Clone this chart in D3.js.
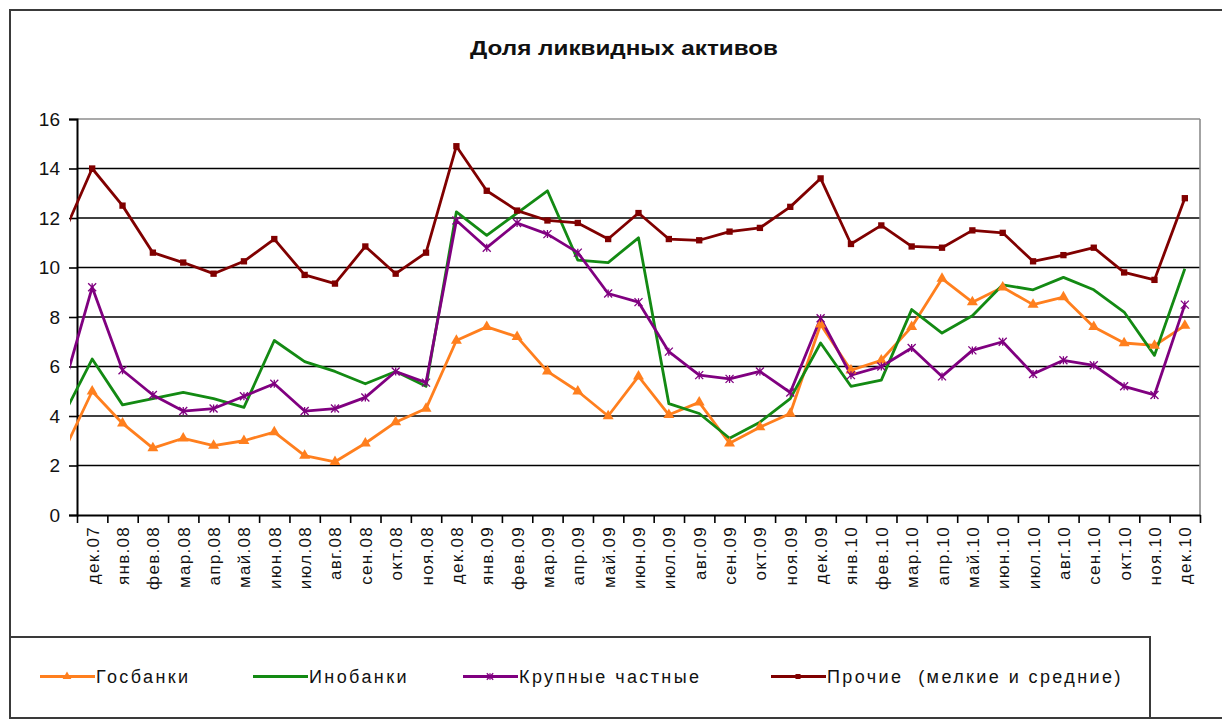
<!DOCTYPE html>
<html lang="ru">
<head>
    <meta charset="UTF-8">
    <title>Доля ликвидных активов</title>
    <script src="https://d3js.org/d3.v7.min.js"></script>
    <style>
        body {
            margin: 0;
            background-color: white;
            font-family: "Liberation Sans", Arial, sans-serif;
        }
        svg {
            display: block;
        }
        .legend-label {
            white-space: pre;
        }
    </style>
</head>
<body>
<svg></svg>
<script>
    // месяцы на оси
    const categories = ["дек.07", "янв.08", "фев.08", "мар.08", "апр.08", "май.08", "июн.08", "июл.08",
        "авг.08", "сен.08", "окт.08", "ноя.08", "дек.08", "янв.09", "фев.09", "мар.09", "апр.09", "май.09",
        "июн.09", "июл.09", "авг.09", "сен.09", "окт.09", "ноя.09", "дек.09", "янв.10", "фев.10", "мар.10",
        "апр.10", "май.10", "июн.10", "июл.10", "авг.10", "сен.10", "окт.10", "ноя.10", "дек.10"];

    const seriesNames = ["Госбанки", "Инобанки", "Крупные частные", "Прочие  (мелкие и средние)"];

    // значение предыдущего месяца (ноя.07), видно только обрезанный кусок линии у левого края
    const leadIn = [2.4, 3.9, 4.9, 11.2];

    const gosbanki = [5.0, 3.7, 2.7, 3.1, 2.8, 3.0, 3.35, 2.4, 2.15, 2.9, 3.75, 4.3, 7.05, 7.6, 7.2, 5.8, 5.0, 4.0,
        5.6, 4.05, 4.55, 2.9, 3.55, 4.1, 7.7, 5.85, 6.25, 7.6, 9.55, 8.6, 9.2, 8.5, 8.8, 7.6, 6.95, 6.85, 7.65];
    const inobanki = [6.3, 4.45, 4.7, 4.95, 4.7, 4.35, 7.05, 6.2, 5.8, 5.3, 5.8, 5.2, 12.25, 11.3, 12.2, 13.1, 10.3, 10.2,
        11.2, 4.5, 4.1, 3.1, 3.75, 4.7, 6.95, 5.2, 5.45, 8.3, 7.35, 8.05, 9.3, 9.1, 9.6, 9.1, 8.2, 6.45, 9.95];
    const krupnye = [9.2, 5.85, 4.85, 4.2, 4.3, 4.8, 5.3, 4.2, 4.3, 4.75, 5.8, 5.35, 11.9, 10.8, 11.8, 11.35, 10.6, 8.95,
        8.6, 6.6, 5.65, 5.5, 5.8, 4.95, 7.95, 5.65, 6.0, 6.75, 5.6, 6.65, 7.0, 5.7, 6.25, 6.05, 5.2, 4.85, 8.5];
    const prochie = [14.0, 12.5, 10.6, 10.2, 9.75, 10.25, 11.15, 9.7, 9.35, 10.85, 9.75, 10.6, 14.9, 13.1, 12.3, 11.9,
        11.8, 11.15, 12.2, 11.15, 11.1, 11.45, 11.6, 12.45, 13.6, 10.95, 11.7, 10.85, 10.8, 11.5, 11.4, 10.25, 10.5,
        10.8, 9.8, 9.5, 12.8];

    const yTicks = [0, 2, 4, 6, 8, 10, 12, 14, 16];

    const colors = ["#ff7f1e", "#138a13", "#800080", "#800000"];
    const markers = ["triangle", "none", "star", "square"];
    const allValues = [gosbanki, inobanki, krupnye, prochie];

    const W = 1222, H = 721;
    const plot = {left: 77, right: 1200, top: 119, bottom: 515};

    const svg = d3.select("svg")
        .attr("width", W)
        .attr("height", H);

    // рамка диаграммы
    svg.append("rect")
        .attr("x", 10).attr("y", 10)
        .attr("width", W + 20).attr("height", 708)
        .attr("fill", "white")
        .attr("stroke", "#3a3a3a")
        .attr("stroke-width", 2);

    // заголовок
    svg.append("text")
        .attr("x", 624)
        .attr("y", 55)
        .attr("text-anchor", "middle")
        .attr("font-size", "20px")
        .attr("font-weight", "bold")
        .attr("textLength", 308)
        .attr("lengthAdjust", "spacingAndGlyphs")
        .attr("fill", "#111")
        .text("Доля ликвидных активов");

    // шкалы: индекс месяца -> x
    const x = d3.scaleLinear()
        .domain([-0.5, categories.length - 0.5])
        .range([plot.left, plot.right]);
    const y = d3.scaleLinear()
        .domain([0, 16])
        .range([plot.bottom, plot.top]);

    // сетка
    svg.append("g")
        .selectAll("line")
        .data(yTicks.filter(d => d > 0))
        .join("line")
        .attr("x1", plot.left).attr("x2", plot.right)
        .attr("y1", d => y(d)).attr("y2", d => y(d))
        .attr("stroke", d => d === 16 ? "#8c8c8c" : "#000")
        .attr("stroke-width", 1.6);

    // правая граница области построения
    svg.append("line")
        .attr("x1", plot.right).attr("x2", plot.right)
        .attr("y1", plot.top).attr("y2", plot.bottom)
        .attr("stroke", "#8c8c8c")
        .attr("stroke-width", 1.6);

    // ось Y
    const yAxis = svg.append("g")
        .attr("transform", `translate(${plot.left},0)`)
        .call(d3.axisLeft(y).tickValues(yTicks).tickSize(8).tickPadding(9));
    yAxis.selectAll("line").attr("stroke", "#000").attr("stroke-width", 1.6);
    yAxis.select(".domain").attr("stroke", "#000").attr("stroke-width", 2);
    yAxis.selectAll("text")
        .attr("font-family", "Liberation Sans, Arial, sans-serif")
        .attr("font-size", "19px")
        .attr("fill", "#111");

    // ось X: засечки на границах месяцев
    const boundaries = d3.range(categories.length + 1).map(i => i - 0.5);
    const xAxis = svg.append("g")
        .attr("transform", `translate(0,${plot.bottom})`)
        .call(d3.axisBottom(x).tickValues(boundaries).tickSize(8).tickFormat("").tickSizeOuter(0));
    xAxis.selectAll("line").attr("stroke", "#000").attr("stroke-width", 1.6);
    xAxis.select(".domain").attr("stroke", "#000").attr("stroke-width", 2);

    // подписи месяцев
    svg.append("g")
        .selectAll("text")
        .data(categories)
        .join("text")
        .attr("transform", (d, i) => `translate(${x(i) + 1},${plot.bottom + 11}) rotate(-90)`)
        .attr("text-anchor", "end")
        .attr("dominant-baseline", "central")
        .attr("font-size", "17px")
        .attr("letter-spacing", "1.3px")
        .attr("fill", "#111")
        .text(d => d);

    // линии рядов
    svg.append("clipPath").attr("id", "clip")
        .append("rect")
        .attr("x", plot.left - 7)
        .attr("y", 0)
        .attr("width", W)
        .attr("height", H);

    const line = d3.line()
        .x(d => x(d.i))
        .y(d => y(d.v));

    const seriesData = allValues.map((vals, s) =>
        [{i: -1, v: leadIn[s]}].concat(vals.map((v, i) => ({i: i, v: v}))));

    const seriesG = svg.append("g").attr("clip-path", "url(#clip)");

    seriesData.forEach((pts, s) => {
        seriesG.append("path")
            .datum(pts)
            .attr("fill", "none")
            .attr("stroke", colors[s])
            .attr("stroke-width", 2.8)
            .attr("stroke-linejoin", "round")
            .attr("d", line);
    });

    function drawMarker(g, type, color, cx, cy, scale) {
        const k = scale || 1;
        if (type === "triangle") {
            g.append("path")
                .attr("d", d3.symbol().type(d3.symbolTriangle).size(52 * k * k)())
                .attr("transform", `translate(${cx},${cy})`)
                .attr("fill", color);
        } else if (type === "square") {
            g.append("path")
                .attr("d", d3.symbol().type(d3.symbolSquare).size(40 * k * k)())
                .attr("transform", `translate(${cx},${cy})`)
                .attr("fill", color);
        } else if (type === "star") {
            const r = 4 * k;
            g.append("path")
                .attr("d", `M${-r},${-r}L${r},${r}M${-r},${r}L${r},${-r}M0,${-r}L0,${r}`)
                .attr("transform", `translate(${cx},${cy})`)
                .attr("stroke", color)
                .attr("stroke-width", 1.3)
                .attr("fill", "none");
        }
    }

    seriesData.forEach((pts, s) => {
        const g = seriesG.append("g");
        pts.filter(d => d.i >= 0).forEach(d => {
            drawMarker(g, markers[s], colors[s], x(d.i), y(d.v));
        });
    });

    // легенда
    const legendTop = 637, legendBottom = 718;
    svg.append("rect")
        .attr("x", 10).attr("y", legendTop)
        .attr("width", 1140).attr("height", legendBottom - legendTop)
        .attr("fill", "white")
        .attr("stroke", "#3a3a3a")
        .attr("stroke-width", 2);

    const legendX = [40, 253, 463, 771];
    const legendY = (legendTop + legendBottom) / 2 - 1;
    const legend = svg.append("g");
    seriesNames.forEach((name, s) => {
        const lx = legendX[s];
        legend.append("line")
            .attr("x1", lx).attr("x2", lx + 55)
            .attr("y1", legendY).attr("y2", legendY)
            .attr("stroke", colors[s])
            .attr("stroke-width", 2.8);
        drawMarker(legend, markers[s], colors[s], lx + 27, legendY, 0.8);
        legend.append("text")
            .attr("class", "legend-label")
            .attr("x", lx + 56)
            .attr("y", legendY)
            .attr("dominant-baseline", "central")
            .attr("font-size", "18px")
            .attr("letter-spacing", "2.4px")
            .attr("fill", "#111")
            .text(name);
    });
</script>
</body>
</html>
